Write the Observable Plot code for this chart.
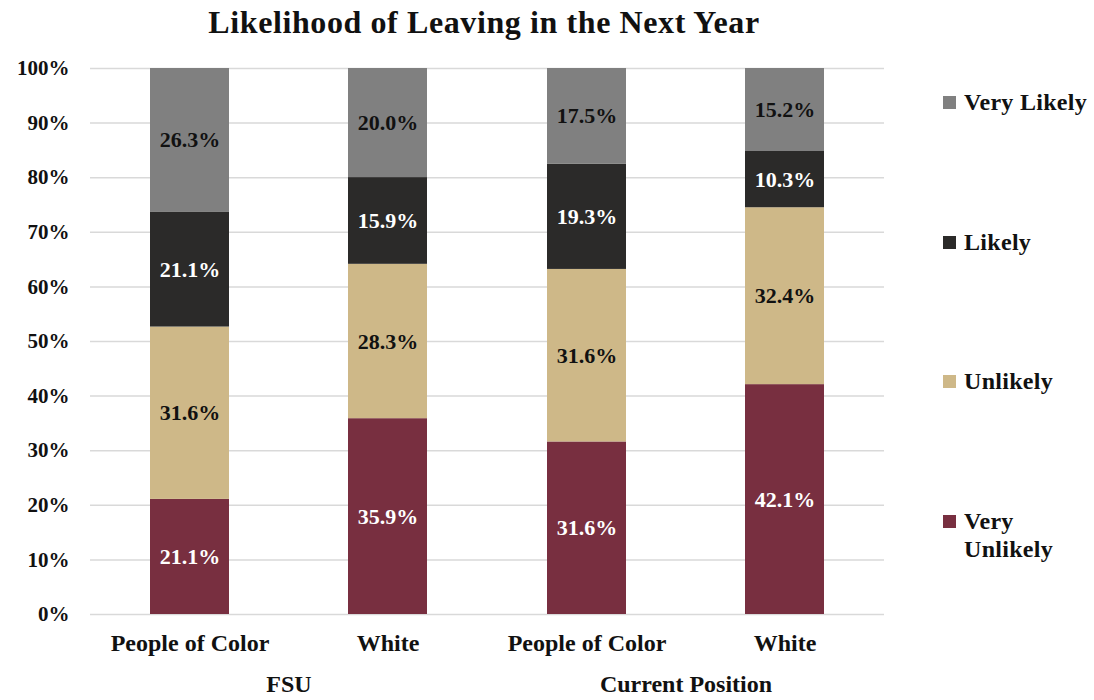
<!DOCTYPE html>
<html><head><meta charset="utf-8">
<script src="https://cdn.jsdelivr.net/npm/d3@7"></script>
<script src="https://cdn.jsdelivr.net/npm/@observablehq/plot@0.6"></script>
<style>
body{margin:0;background:#fff;font-family:"Liberation Serif","Times New Roman",serif;color:#111;}
#wrap{position:relative;width:1094px;height:700px;overflow:hidden;}
#title{position:absolute;left:0;top:4px;width:968px;text-align:center;font-weight:bold;font-size:32px;letter-spacing:0.6px;}
#chart{position:absolute;left:0;top:50px;}
.item{position:absolute;left:943px;display:flex;align-items:flex-start;font-weight:bold;font-size:24px;line-height:28px;letter-spacing:0.3px;}
.sw{width:13px;height:13px;margin-right:8px;margin-top:8px;flex:none;}
.lab{width:128px;}
</style></head>
<body><div id="wrap"><div id="title">Likelihood of Leaving in the Next Year</div><div id="chart"></div></div>
<script>
const groups = ["FSU", "FSU", "Current Position", "Current Position"];
const races = ["People of Color", "White", "People of Color", "White"];
const levels = ["Very Unlikely", "Unlikely", "Likely", "Very Likely"];
const colors = ["#782F40", "#CEB888", "#2B2A29", "#808080"];
const textColors = ["white", "#111", "white", "#111"];
const veryUnlikely = [21.1, 35.9, 31.6, 42.1];
const unlikely = [31.6, 28.3, 31.6, 32.4];
const likely = [21.1, 15.9, 19.3, 10.3];
const veryLikely = [26.3, 20.0, 17.5, 15.2];
const series = [veryUnlikely, unlikely, likely, veryLikely];
const yTicks = [0, 10, 20, 30, 40, 50, 60, 70, 80, 90, 100];

const data = [];
groups.forEach((g, i) => {
  levels.forEach((lv, j) => {
    data.push({group: g, race: races[i], level: lv, li: j, value: series[j][i]});
  });
});

const stackOpts = {offset: "normalize", fx: "group", x: "race", y: "value", order: levels};

const chart = Plot.plot({
  width: 1094, height: 650,
  marginTop: 18, marginLeft: 90, marginRight: 210, marginBottom: 86,
  style: {fontFamily: "'Liberation Serif', 'Times New Roman', serif", fontSize: "21px", fontWeight: "bold", color: "#111", background: "white"},
  fx: {domain: ["FSU", "Current Position"], padding: 0, label: null},
  x: {domain: ["People of Color", "White"], paddingInner: 0.6, paddingOuter: 0.3, label: null},
  y: {domain: [0, 1], label: null},
  color: {domain: levels, range: colors},
  marks: [
    Plot.gridY(yTicks.map(d => d / 100), {stroke: "#d9d9d9", strokeOpacity: 1, strokeWidth: 1.5}),
    Plot.barY(data, Plot.stackY({...stackOpts, z: "level", fill: "level"})),
    Plot.text(data, Plot.stackY({...stackOpts, z: "level",
      text: d => d.value.toFixed(1) + "%",
      fill: d => textColors[d.li], fontSize: 22, fontWeight: "bold"})),
    Plot.axisY(yTicks.map(d => d / 100), {tickSize: 0, tickPadding: 21, tickFormat: d => Math.round(d * 100) + "%", fontSize: 21, label: null}),
    Plot.axisX({tickSize: 0, tickPadding: 19, label: null, fontSize: 24, letterSpacing: 0.8}),
    Plot.axisFx({anchor: "bottom", tickSize: 0, tickPadding: 60, label: null, fontSize: 24, letterSpacing: 0.8})
  ]
});
document.getElementById("chart").appendChild(chart);

const wrap = document.getElementById("wrap");
[...levels].reverse().forEach((lv, k) => {
  const idx = levels.indexOf(lv);
  const it = document.createElement("div");
  it.className = "item";
  it.style.top = (88 + k * 139.5) + "px";
  it.innerHTML = `<div class="sw" style="background:${colors[idx]}"></div><div class="lab">${lv}</div>`;
  wrap.appendChild(it);
});
</script></body></html>
